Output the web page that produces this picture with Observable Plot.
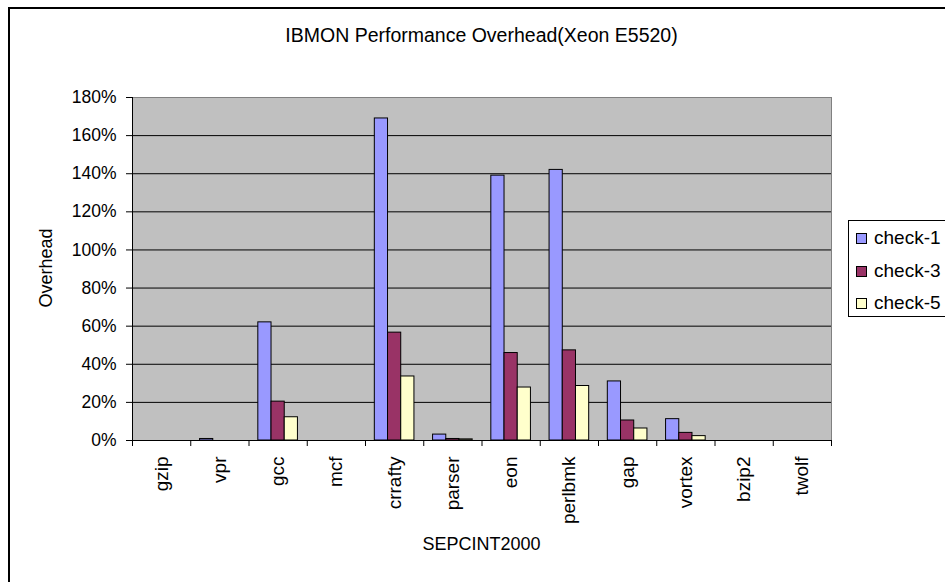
<!DOCTYPE html>
<html>
<head>
<meta charset="utf-8">
<script src="https://cdn.jsdelivr.net/npm/d3@7"></script>
<script src="https://cdn.jsdelivr.net/npm/@observablehq/plot@0.6"></script>
<style>
  html, body { margin: 0; padding: 0; background: #fff; overflow: hidden; }
  #wrap { position: relative; width: 945px; height: 582px; overflow: hidden; font-family: "Liberation Sans", Arial, sans-serif; color: #000; }
  #wrap svg { position: absolute; left: 0; top: 0; }
  .border { position: absolute; left: 8px; top: 7px; width: 1200px; height: 1200px; border-left: 2px solid #000; border-top: 2px solid #000; }
  .title { position: absolute; left: 0; width: 963px; top: 24px; text-align: center; font-size: 19.5px; white-space: nowrap; }
  .ytitle { position: absolute; left: 46px; top: 268px; transform: translate(-50%, -50%) rotate(-90deg); font-size: 18px; white-space: nowrap; }
  .xtitle { position: absolute; left: 0; width: 963px; top: 534px; text-align: center; font-size: 18px; white-space: nowrap; }
  .legend { position: absolute; left: 848px; top: 220px; width: 140px; height: 97px; border: 1px solid #000; background: #fff; box-sizing: border-box; }
  .item { position: absolute; left: 7px; height: 20px; display: flex; align-items: center; font-size: 19px; white-space: nowrap; }
  .sw { width: 9px; height: 9px; border: 1px solid #000; margin-right: 7px; }
</style>
</head>
<body>
<div id="wrap">
  <div class="border"></div>
</div>
<script>
const categories = ["gzip", "vpr", "gcc", "mcf", "crrafty", "parser", "eon", "perlbmk", "gap", "vortex", "bzip2", "twolf"];
const check1 = [0, 0.008, 0.62, 0, 1.69, 0.031, 1.39, 1.42, 0.31, 0.112, 0, 0];
const check3 = [0, 0, 0.204, 0, 0.566, 0.008, 0.459, 0.473, 0.105, 0.040, 0, 0];
const check5 = [0, 0, 0.122, 0, 0.336, 0.006, 0.278, 0.286, 0.063, 0.023, 0, 0];
const seriesNames = ["check-1", "check-3", "check-5"];
const seriesColors = ["#9999FF", "#993366", "#FFFFCC"];
const yTicks = [0, 0.2, 0.4, 0.6, 0.8, 1.0, 1.2, 1.4, 1.6, 1.8];
const chartTitle = "IBMON Performance Overhead(Xeon E5520)";
const xTitle = "SEPCINT2000";
const yTitle = "Overhead";

const seriesValues = [check1, check3, check5];
const groupPad = 0.16;
const barW = (1 - 2 * groupPad) / 3;

const rows = [];
seriesValues.forEach((vals, j) => {
  vals.forEach((v, i) => {
    if (v > 0) rows.push({cat: categories[i], i, j, series: seriesNames[j], value: v});
  });
});

const labels = categories.map((c, i) => ({c, i}));

const chart = Plot.plot({
  width: 945,
  height: 582,
  marginLeft: 132,
  marginRight: 114,
  marginTop: 97,
  marginBottom: 142,
  x: {type: "linear", domain: [0, categories.length]},
  y: {domain: [0, 1.8]},
  color: {domain: seriesNames, range: seriesColors},
  style: {fontFamily: "'Liberation Sans', Arial, sans-serif", fontSize: "17.5px", color: "#000", background: "transparent"},
  marks: [
    Plot.frame({fill: "#C0C0C0", stroke: null}),
    Plot.gridY(yTicks, {stroke: "#000", strokeOpacity: 1}),
    Plot.frame({stroke: "#808080", strokeWidth: 1}),
    Plot.rectY(rows, {
      x1: d => d.i + groupPad + d.j * barW,
      x2: d => d.i + groupPad + (d.j + 1) * barW,
      y: "value",
      fill: "series",
      stroke: "#000",
      strokeWidth: 1
    }),
    Plot.ruleY([0], {stroke: "#000"}),
    Plot.ruleX([0], {stroke: "#000"}),
    Plot.axisY({ticks: yTicks, tickFormat: d3.format(".0%"), tickSize: 6, tickPadding: 10, label: null, fontSize: 17.5}),
    Plot.axisX({ticks: d3.range(categories.length + 1), tickFormat: () => "", tickSize: 6, label: null}),
    Plot.text(labels, {
      x: d => d.i + 0.5,
      y: () => 0,
      text: "c",
      rotate: -90,
      textAnchor: "end",
      dy: 16,
      fontSize: 19
    })
  ]
});

const wrap = document.getElementById("wrap");
wrap.appendChild(chart);

const t = document.createElement("div");
t.className = "title"; t.textContent = chartTitle; wrap.appendChild(t);
const yt = document.createElement("div");
yt.className = "ytitle"; yt.textContent = yTitle; wrap.appendChild(yt);
const xt = document.createElement("div");
xt.className = "xtitle"; xt.textContent = xTitle; wrap.appendChild(xt);

const lg = document.createElement("div");
lg.className = "legend";
const tops = [7, 40, 72];
seriesNames.forEach((s, j) => {
  const it = document.createElement("div");
  it.className = "item";
  it.style.top = tops[j] + "px";
  const sw = document.createElement("div");
  sw.className = "sw";
  sw.style.background = seriesColors[j];
  it.appendChild(sw);
  const tx = document.createElement("span");
  tx.textContent = s;
  it.appendChild(tx);
  lg.appendChild(it);
});
wrap.appendChild(lg);
</script>
</body>
</html>
